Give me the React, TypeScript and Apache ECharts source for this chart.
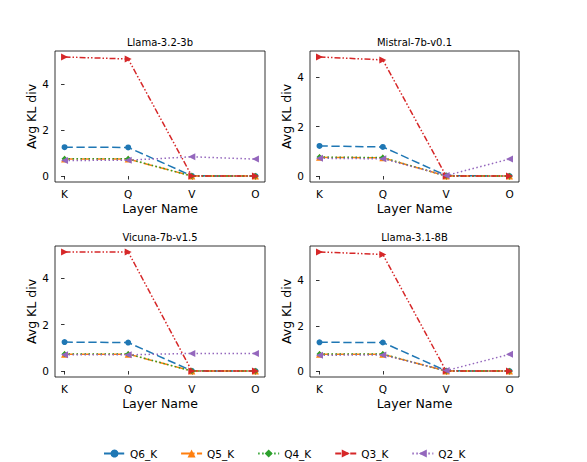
import React, { useEffect, useRef } from "react";
import * as echarts from "echarts";

const layers = ["K", "Q", "V", "O"];
const seriesNames = ["Q6_K", "Q5_K", "Q4_K", "Q3_K", "Q2_K"];
const panelTitles = ["Llama-3.2-3b", "Mistral-7b-v0.1", "Vicuna-7b-v1.5", "Llama-3.1-8B"];

// Llama-3.2-3b
const llama32Q6 = [1.26, 1.25, 0.01, 0.0];
const llama32Q5 = [0.74, 0.74, 0.0, 0.0];
const llama32Q4 = [0.75, 0.75, 0.0, 0.0];
const llama32Q3 = [5.2, 5.11, 0.0, 0.0];
const llama32Q2 = [0.68, 0.69, 0.84, 0.74];

// Mistral-7b-v0.1
const mistralQ6 = [1.22, 1.18, 0.02, 0.0];
const mistralQ5 = [0.76, 0.74, 0.0, 0.0];
const mistralQ4 = [0.77, 0.75, 0.0, 0.0];
const mistralQ3 = [4.83, 4.71, 0.0, 0.0];
const mistralQ2 = [0.72, 0.7, 0.02, 0.69];

// Vicuna-7b-v1.5
const vicunaQ6 = [1.25, 1.23, 0.01, 0.0];
const vicunaQ5 = [0.73, 0.73, 0.0, 0.0];
const vicunaQ4 = [0.74, 0.74, 0.0, 0.0];
const vicunaQ3 = [5.14, 5.14, 0.0, 0.0];
const vicunaQ2 = [0.7, 0.7, 0.76, 0.76];

// Llama-3.1-8B
const llama31Q6 = [1.27, 1.26, 0.01, 0.0];
const llama31Q5 = [0.74, 0.74, 0.0, 0.0];
const llama31Q4 = [0.75, 0.75, 0.0, 0.0];
const llama31Q3 = [5.26, 5.15, 0.0, 0.0];
const llama31Q2 = [0.7, 0.71, 0.02, 0.74];

const panelData = [
  [llama32Q6, llama32Q5, llama32Q4, llama32Q3, llama32Q2],
  [mistralQ6, mistralQ5, mistralQ4, mistralQ3, mistralQ2],
  [vicunaQ6, vicunaQ5, vicunaQ4, vicunaQ3, vicunaQ2],
  [llama31Q6, llama31Q5, llama31Q4, llama31Q3, llama31Q2],
];

const yTicks = [0, 2, 4];
const xTicks = [0, 1, 2, 3];

const FONT = "DejaVu Sans";
const colors = ["#1f77b4", "#ff7f0e", "#2ca02c", "#d62728", "#9467bd"];
const dashes: any[] = [
  [8.3, 3.6],
  [9.6, 2.4, 1.5, 2.4],
  [1.5, 2.5],
  [6, 2, 1.5, 2, 1.5, 2],
  [1.5, 2.5],
];
const symbols = ["circle", "triangle", "diamond", "triangle", "triangle"];
const symbolRotates = [0, 0, 0, -90, 90];
const symbolSizes = [6, 7, 6, 7, 7];

const grids = [
  { left: 55, top: 51, width: 210, height: 131 },
  { left: 310, top: 51, width: 209, height: 131 },
  { left: 55, top: 246, width: 210, height: 131 },
  { left: 310, top: 246, width: 209, height: 131 },
];

export default function App() {
  const ref = useRef<HTMLDivElement>(null);
  useEffect(() => {
    if (!ref.current) return;
    const chart = echarts.init(ref.current, undefined, { renderer: "svg" });

    const xAxes: any[] = [];
    const yAxes: any[] = [];
    const series: any[] = [];
    const graphics: any[] = [];

    panelData.forEach((panel, p) => {
      let maxV = -Infinity;
      let minV = Infinity;
      panel.forEach((arr) => arr.forEach((v) => {
        maxV = Math.max(maxV, v);
        minV = Math.min(minV, v);
      }));
      const span = maxV - minV;
      xAxes.push({
        gridIndex: p,
        type: "value",
        min: -0.15,
        max: 3.15,
        name: "Layer Name",
        nameLocation: "middle",
        nameGap: 20,
        nameTextStyle: { fontFamily: FONT, fontSize: 12.5, color: "#000" },
        axisLine: { show: false },
        splitLine: { show: false },
        axisTick: {
          show: true,
          customValues: xTicks,
          length: 3.5,
          lineStyle: { color: "#000", width: 0.8 },
        },
        axisLabel: {
          customValues: xTicks,
          formatter: (v: number) => layers[Math.round(v)] ?? "",
          fontFamily: FONT,
          fontSize: 10.5,
          color: "#000",
          margin: 6,
        },
      });
      yAxes.push({
        gridIndex: p,
        type: "value",
        min: minV - 0.05 * span,
        max: maxV + 0.05 * span,
        name: "Avg KL div",
        nameLocation: "middle",
        nameGap: 17,
        nameTextStyle: { fontFamily: FONT, fontSize: 12.5, color: "#000" },
        axisLine: { show: false },
        splitLine: { show: false },
        axisTick: {
          show: true,
          customValues: yTicks,
          length: 3.5,
          lineStyle: { color: "#000", width: 0.8 },
        },
        axisLabel: {
          customValues: yTicks,
          fontFamily: FONT,
          fontSize: 10.5,
          color: "#000",
          margin: 6,
        },
      });
      panel.forEach((arr, s) => {
        series.push({
          name: seriesNames[s],
          type: "line",
          xAxisIndex: p,
          yAxisIndex: p,
          data: arr.map((v, i) => [i, v]),
          symbol: symbols[s],
          symbolSize: symbolSizes[s],
          symbolRotate: symbolRotates[s],
          showAllSymbol: true,
          color: colors[s],
          itemStyle: { color: colors[s] },
          lineStyle: { color: colors[s], width: 1.5, type: dashes[s] },
          z: 2 + s,
        });
      });
      const g = grids[p];
      graphics.push({
        type: "text",
        x: g.left + g.width / 2,
        y: g.top - 9,
        style: {
          text: panelTitles[p],
          font: `10px "${FONT}"`,
          fill: "#000",
          textAlign: "center",
          textVerticalAlign: "middle",
        },
      });
    });

    chart.setOption({
      animation: false,
      backgroundColor: "#fff",
      grid: grids.map((g) => ({
        ...g,
        show: true,
        borderColor: "#000",
        borderWidth: 0.8,
        backgroundColor: "transparent",
      })),
      xAxis: xAxes,
      yAxis: yAxes,
      series,
      graphic: graphics,
      legend: {
        data: seriesNames,
        top: 443,
        left: 98,
        padding: 5,
        itemWidth: 21,
        itemHeight: 10,
        itemGap: 23,
        textStyle: { fontFamily: FONT, fontSize: 10.5, color: "#000" },
      },
    });
    return () => chart.dispose();
  }, []);
  return (
    <div
      ref={ref}
      style={{ position: "absolute", left: 0, top: 0, width: 587, height: 462 }}
    />
  );
}
